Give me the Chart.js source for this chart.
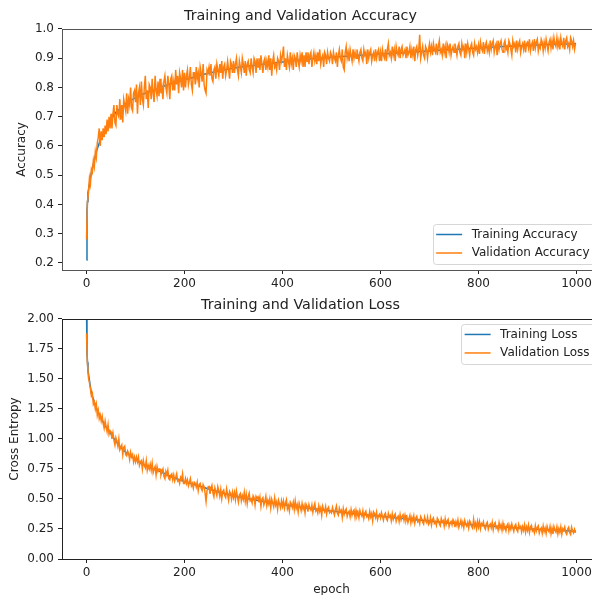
<!DOCTYPE html>
<html>
<head>
<meta charset="utf-8">
<script src="https://cdn.jsdelivr.net/npm/chart.js@4/dist/chart.umd.min.js"></script>
<style>
  html, body { margin: 0; padding: 0; background: #fff; overflow: hidden; width: 592px; height: 595px; }
  canvas { position: absolute; left: 0; }
  #accChart { top: 0; }
  #lossChart { top: 297px; }
</style>
</head>
<body>
<canvas id="accChart" width="601" height="297"></canvas>
<canvas id="lossChart" width="601" height="310"></canvas>
<script>
// validation logged every 2 epochs (0..998), one row = 50 epochs
// training logged at 0,1,2,3 then every 10 epochs, last at 999
const valStep = 2;
const trainEarly = [0, 1, 2, 3];
const trainStep = 10;
const lastEpoch = 999;

const valAccuracy = [
  0.28, 0.41, 0.44, 0.49, 0.47, 0.52, 0.51, 0.55, 0.53, 0.58, 0.56, 0.61, 0.63, 0.66, 0.60, 0.65, 0.62, 0.66, 0.63, 0.67, 0.64, 0.69, 0.65, 0.70, 0.66,
  0.71, 0.66, 0.71, 0.74, 0.68, 0.67, 0.74, 0.71, 0.70, 0.76, 0.69, 0.74, 0.68, 0.76, 0.74, 0.72, 0.78, 0.71, 0.76, 0.74, 0.80, 0.73, 0.72, 0.78, 0.79,
  0.75, 0.81, 0.71, 0.78, 0.80, 0.74, 0.82, 0.76, 0.74, 0.80, 0.84, 0.76, 0.79, 0.73, 0.81, 0.80, 0.76, 0.83, 0.78, 0.75, 0.84, 0.79, 0.77, 0.82, 0.77,
  0.83, 0.78, 0.80, 0.76, 0.82, 0.84, 0.80, 0.78, 0.84, 0.81, 0.76, 0.83, 0.84, 0.79, 0.82, 0.79, 0.86, 0.81, 0.84, 0.78, 0.85, 0.83, 0.80, 0.86, 0.79,
  0.85, 0.80, 0.84, 0.86, 0.81, 0.83, 0.87, 0.81, 0.79, 0.85, 0.85, 0.81, 0.87, 0.83, 0.85, 0.80, 0.87, 0.85, 0.82, 0.88, 0.81, 0.79, 0.78, 0.86, 0.85,
  0.87, 0.84, 0.88, 0.83, 0.82, 0.86, 0.87, 0.83, 0.88, 0.86, 0.84, 0.88, 0.85, 0.89, 0.83, 0.87, 0.88, 0.84, 0.86, 0.89, 0.86, 0.83, 0.89, 0.88, 0.85,
  0.89, 0.85, 0.88, 0.90, 0.86, 0.84, 0.89, 0.87, 0.85, 0.90, 0.88, 0.85, 0.89, 0.84, 0.88, 0.89, 0.86, 0.85, 0.90, 0.87, 0.85, 0.90, 0.89, 0.85, 0.90,
  0.87, 0.90, 0.86, 0.91, 0.88, 0.85, 0.89, 0.90, 0.86, 0.89, 0.87, 0.91, 0.86, 0.90, 0.84, 0.89, 0.91, 0.87, 0.88, 0.86, 0.90, 0.89, 0.86, 0.91, 0.89,
  0.91, 0.94, 0.87, 0.90, 0.86, 0.91, 0.89, 0.87, 0.92, 0.88, 0.90, 0.86, 0.91, 0.90, 0.87, 0.92, 0.89, 0.87, 0.91, 0.89, 0.92, 0.87, 0.91, 0.87, 0.92,
  0.89, 0.92, 0.88, 0.91, 0.92, 0.87, 0.90, 0.92, 0.89, 0.91, 0.88, 0.92, 0.89, 0.93, 0.88, 0.90, 0.91, 0.87, 0.92, 0.91, 0.88, 0.92, 0.90, 0.89, 0.92,
  0.91, 0.88, 0.92, 0.90, 0.89, 0.92, 0.87, 0.91, 0.93, 0.90, 0.89, 0.93, 0.87, 0.86, 0.92, 0.94, 0.90, 0.92, 0.89, 0.93, 0.91, 0.89, 0.93, 0.90, 0.92,
  0.90, 0.93, 0.91, 0.89, 0.92, 0.93, 0.90, 0.89, 0.93, 0.91, 0.92, 0.88, 0.93, 0.90, 0.92, 0.93, 0.89, 0.91, 0.92, 0.89, 0.93, 0.90, 0.92, 0.93, 0.89,
  0.92, 0.89, 0.93, 0.91, 0.90, 0.93, 0.89, 0.93, 0.95, 0.91, 0.92, 0.90, 0.94, 0.91, 0.93, 0.89, 0.94, 0.92, 0.91, 0.94, 0.90, 0.93, 0.94, 0.91, 0.92,
  0.93, 0.90, 0.94, 0.91, 0.92, 0.94, 0.90, 0.93, 0.91, 0.94, 0.89, 0.93, 0.94, 0.91, 0.93, 0.98, 0.90, 0.92, 0.94, 0.91, 0.90, 0.94, 0.93, 0.90, 0.93,
  0.95, 0.92, 0.94, 0.91, 0.95, 0.93, 0.92, 0.95, 0.91, 0.94, 0.96, 0.92, 0.93, 0.91, 0.95, 0.92, 0.94, 0.90, 0.95, 0.94, 0.92, 0.95, 0.91, 0.93, 0.94,
  0.92, 0.95, 0.93, 0.91, 0.94, 0.95, 0.92, 0.91, 0.95, 0.93, 0.94, 0.90, 0.95, 0.92, 0.95, 0.93, 0.91, 0.94, 0.95, 0.92, 0.91, 0.95, 0.93, 0.94, 0.92,
  0.945, 0.915, 0.955, 0.935, 0.925, 0.955, 0.915, 0.945, 0.955, 0.925, 0.94, 0.92, 0.96, 0.93, 0.95, 0.96, 0.92, 0.94, 0.95, 0.91, 0.96, 0.93, 0.95, 0.96, 0.93,
  0.92, 0.95, 0.96, 0.93, 0.94, 0.92, 0.96, 0.95, 0.93, 0.91, 0.96, 0.94, 0.95, 0.92, 0.96, 0.93, 0.95, 0.96, 0.92, 0.94, 0.95, 0.93, 0.96, 0.92, 0.95,
  0.955, 0.935, 0.965, 0.925, 0.945, 0.955, 0.925, 0.965, 0.935, 0.955, 0.965, 0.925, 0.945, 0.935, 0.965, 0.955, 0.925, 0.955, 0.935, 0.965, 0.945, 0.925, 0.955, 0.965, 0.935,
  0.96, 0.93, 0.97, 0.95, 0.94, 0.97, 0.94, 0.96, 0.93, 0.97, 0.95, 0.94, 0.97, 0.93, 0.96, 0.97, 0.94, 0.95, 0.93, 0.97, 0.96, 0.94, 0.96, 0.93, 0.95
];

const trainAccuracy = [
  0.21, 0.38, 0.41, 0.44,
  0.51, 0.58, 0.63, 0.66, 0.69, 0.715, 0.73, 0.745, 0.755, 0.765,
  0.775, 0.78, 0.787, 0.792, 0.80, 0.806, 0.812, 0.816, 0.821, 0.826,
  0.831, 0.835, 0.84, 0.845, 0.849, 0.853, 0.856, 0.86, 0.863, 0.866,
  0.869, 0.871, 0.873, 0.875, 0.877, 0.879, 0.881, 0.883, 0.885, 0.887,
  0.889, 0.891, 0.893, 0.895, 0.897, 0.898, 0.899, 0.901, 0.902, 0.903,
  0.905, 0.906, 0.907, 0.908, 0.909, 0.910, 0.911, 0.912, 0.913, 0.914,
  0.915, 0.916, 0.917, 0.918, 0.919, 0.920, 0.922, 0.923, 0.924, 0.925,
  0.926, 0.927, 0.928, 0.929, 0.930, 0.931, 0.932, 0.933, 0.934, 0.935,
  0.936, 0.937, 0.938, 0.939, 0.940, 0.941, 0.942, 0.943, 0.943, 0.944,
  0.945, 0.945, 0.946, 0.947, 0.947, 0.948, 0.948, 0.949, 0.949,
  0.95
];

const valLoss = [
  1.88, 1.62, 1.51, 1.47, 1.42, 1.36, 1.38, 1.29, 1.31, 1.25, 1.29, 1.20, 1.24, 1.17, 1.20, 1.15, 1.19, 1.13, 1.09, 1.15, 1.10, 1.06, 1.12, 1.04, 1.07,
  1.06, 1.00, 1.05, 0.99, 0.95, 1.01, 0.98, 0.94, 1.00, 0.91, 0.93, 0.95, 0.87, 0.93, 0.94, 0.87, 0.86, 0.90, 0.88, 0.83, 0.89, 0.85, 0.87, 0.81, 0.85,
  0.81, 0.85, 0.81, 0.85, 0.78, 0.81, 0.82, 0.75, 0.82, 0.78, 0.76, 0.82, 0.74, 0.78, 0.75, 0.79, 0.74, 0.80, 0.72, 0.75, 0.77, 0.70, 0.77, 0.73, 0.75,
  0.75, 0.70, 0.73, 0.75, 0.69, 0.67, 0.73, 0.70, 0.74, 0.67, 0.66, 0.70, 0.71, 0.66, 0.70, 0.65, 0.68, 0.71, 0.65, 0.66, 0.63, 0.68, 0.66, 0.71, 0.63,
  0.63, 0.67, 0.63, 0.66, 0.61, 0.64, 0.67, 0.61, 0.63, 0.59, 0.64, 0.63, 0.60, 0.64, 0.57, 0.62, 0.63, 0.59, 0.57, 0.62, 0.60, 0.55, 0.48, 0.57, 0.60,
  0.605, 0.543, 0.586, 0.614, 0.552, 0.52, 0.593, 0.561, 0.529, 0.602, 0.57, 0.523, 0.581, 0.504, 0.562, 0.575, 0.528, 0.511, 0.584, 0.537, 0.49, 0.563, 0.546, 0.499, 0.557,
  0.512, 0.555, 0.494, 0.567, 0.521, 0.474, 0.533, 0.546, 0.485, 0.528, 0.497, 0.555, 0.479, 0.537, 0.461, 0.519, 0.548, 0.486, 0.50, 0.468, 0.527, 0.51, 0.449, 0.522, 0.506,
  0.518, 0.472, 0.515, 0.439, 0.497, 0.511, 0.45, 0.478, 0.522, 0.445, 0.489, 0.458, 0.501, 0.425, 0.498, 0.467, 0.436, 0.509, 0.448, 0.476, 0.415, 0.489, 0.457, 0.426, 0.485,
  0.439, 0.483, 0.422, 0.466, 0.494, 0.418, 0.447, 0.401, 0.475, 0.459, 0.428, 0.472, 0.411, 0.484, 0.423, 0.452, 0.391, 0.465, 0.434, 0.403, 0.462, 0.416, 0.445, 0.384, 0.458,
  0.44, 0.394, 0.453, 0.422, 0.406, 0.45, 0.389, 0.433, 0.462, 0.401, 0.415, 0.384, 0.443, 0.397, 0.426, 0.365, 0.439, 0.408, 0.392, 0.436, 0.375, 0.419, 0.433, 0.387, 0.401,
  0.385, 0.429, 0.398, 0.367, 0.411, 0.441, 0.38, 0.364, 0.423, 0.392, 0.406, 0.345, 0.419, 0.373, 0.402, 0.417, 0.356, 0.385, 0.399, 0.353, 0.412, 0.366, 0.395, 0.409, 0.348,
  0.406, 0.36, 0.389, 0.344, 0.403, 0.372, 0.356, 0.401, 0.34, 0.384, 0.398, 0.353, 0.367, 0.336, 0.395, 0.35, 0.379, 0.318, 0.392, 0.377, 0.346, 0.39, 0.329, 0.359, 0.373,
  0.341, 0.385, 0.354, 0.324, 0.368, 0.382, 0.336, 0.321, 0.38, 0.349, 0.363, 0.318, 0.377, 0.331, 0.36, 0.375, 0.314, 0.343, 0.357, 0.312, 0.371, 0.325, 0.354, 0.369, 0.323,
  0.366, 0.32, 0.349, 0.304, 0.333, 0.362, 0.301, 0.346, 0.315, 0.359, 0.298, 0.342, 0.357, 0.311, 0.325, 0.294, 0.354, 0.338, 0.307, 0.291, 0.35, 0.32, 0.304, 0.348, 0.287,
  0.301, 0.345, 0.284, 0.329, 0.343, 0.297, 0.311, 0.281, 0.34, 0.324, 0.293, 0.277, 0.337, 0.306, 0.32, 0.274, 0.334, 0.288, 0.317, 0.331, 0.271, 0.30, 0.314, 0.284, 0.328,
  0.312, 0.266, 0.311, 0.28, 0.325, 0.264, 0.293, 0.323, 0.277, 0.307, 0.261, 0.32, 0.29, 0.274, 0.304, 0.258, 0.317, 0.302, 0.271, 0.256, 0.33, 0.269, 0.299, 0.253, 0.313,
  0.267, 0.311, 0.251, 0.295, 0.28, 0.309, 0.264, 0.248, 0.293, 0.307, 0.247, 0.276, 0.291, 0.26, 0.305, 0.244, 0.289, 0.303, 0.258, 0.272, 0.242, 0.301, 0.256, 0.285, 0.24,
  0.297, 0.251, 0.266, 0.235, 0.28, 0.294, 0.233, 0.278, 0.247, 0.292, 0.261, 0.23, 0.275, 0.289, 0.244, 0.228, 0.287, 0.257, 0.271, 0.226, 0.27, 0.239, 0.284, 0.223, 0.268,
  0.237, 0.282, 0.221, 0.266, 0.28, 0.235, 0.249, 0.219, 0.278, 0.233, 0.262, 0.277, 0.216, 0.246, 0.26, 0.215, 0.274, 0.229, 0.258, 0.213, 0.272, 0.242, 0.226, 0.271, 0.211,
  0.256, 0.21, 0.27, 0.24, 0.224, 0.269, 0.209, 0.253, 0.223, 0.268, 0.207, 0.252, 0.237, 0.266, 0.221, 0.206, 0.25, 0.265, 0.22, 0.204, 0.264, 0.234, 0.218, 0.248, 0.218
];

const trainLoss = [
  2.10, 1.72, 1.64, 1.57,
  1.38, 1.26, 1.17, 1.10, 1.04, 0.98, 0.93, 0.89, 0.86, 0.83,
  0.80, 0.78, 0.76, 0.745, 0.73, 0.71, 0.69, 0.675, 0.66, 0.645,
  0.632, 0.62, 0.608, 0.595, 0.582, 0.57, 0.558, 0.547, 0.537, 0.527,
  0.517, 0.51, 0.502, 0.495, 0.488, 0.481, 0.474, 0.467, 0.46, 0.454,
  0.448, 0.442, 0.436, 0.43, 0.425, 0.42, 0.415, 0.41, 0.405, 0.40,
  0.395, 0.39, 0.385, 0.38, 0.376, 0.372, 0.368, 0.364, 0.36, 0.356,
  0.352, 0.348, 0.344, 0.34, 0.336, 0.332, 0.328, 0.324, 0.32, 0.316,
  0.312, 0.308, 0.304, 0.30, 0.297, 0.294, 0.291, 0.288, 0.285, 0.282,
  0.279, 0.276, 0.273, 0.27, 0.267, 0.264, 0.261, 0.258, 0.255, 0.252,
  0.25, 0.247, 0.245, 0.243, 0.241, 0.239, 0.237, 0.235, 0.233,
  0.232
];

const xTicks = [0, 200, 400, 600, 800, 1000];
const accTicks = [0.2, 0.3, 0.4, 0.5, 0.6, 0.7, 0.8, 0.9, 1.0];
const lossTicks = [0, 0.25, 0.5, 0.75, 1.0, 1.25, 1.5, 1.75, 2.0];

const BLUE = '#1f77b4';
const ORANGE = '#ff7f0e';
const INK = '#222';
const FONT = 'DejaVu Sans';
const SMALL = 12;

const valEpochs = valAccuracy.map((_, i) => i * valStep);
const trainEpochs = trainEarly.slice();
for (let e = trainStep; e < lastEpoch; e += trainStep) trainEpochs.push(e);
trainEpochs.push(lastEpoch);

function points(epochs, values) {
  if (epochs.length !== values.length) console.warn('length mismatch', epochs.length, values.length);
  return values.map((v, i) => ({ x: epochs[i], y: v }));
}

// all four spines, like matplotlib
const frame = {
  id: 'frame',
  afterDatasetsDraw(chart, args, opts) {
    const { ctx, chartArea: a } = chart;
    ctx.save();
    ctx.strokeStyle = opts.color;
    ctx.lineWidth = 1;
    ctx.strokeRect(Math.round(a.left) + 0.5, Math.round(a.top) + 0.5,
      Math.round(a.right - a.left), Math.round(a.bottom - a.top));
    ctx.restore();
  }
};

// legend drawn inside the axes
const boxLegend = {
  id: 'boxLegend',
  afterDraw(chart, args, opts) {
    const { ctx, chartArea: a } = chart;
    const items = chart.data.datasets.slice().sort((p, q) => p.legendIndex - q.legendIndex);
    ctx.save();
    ctx.font = SMALL + 'px "' + FONT + '"';
    const textW = Math.max(...items.map(d => ctx.measureText(d.label).width));
    const pad = 3.5, handle = 26, gap = 9.5, rowH = 18.5;
    const w = pad + handle + gap + textW + pad + 2;
    const h = 40;
    const x = a.right - 6 - w;
    const y = opts.where === 'lower' ? a.bottom - 6 - h : a.top + 5;
    ctx.beginPath();
    ctx.roundRect(Math.round(x) + 0.5, Math.round(y) + 0.5, Math.round(w), h, 3);
    ctx.fillStyle = 'rgba(255,255,255,0.85)';
    ctx.fill();
    ctx.strokeStyle = '#d6d6d6';
    ctx.lineWidth = 1;
    ctx.stroke();
    items.forEach((d, i) => {
      const cy = y + 10.5 + i * rowH;
      ctx.strokeStyle = d.borderColor;
      ctx.lineWidth = 1.5;
      ctx.beginPath();
      ctx.moveTo(x + pad, cy);
      ctx.lineTo(x + pad + handle, cy);
      ctx.stroke();
      ctx.fillStyle = INK;
      ctx.textBaseline = 'middle';
      ctx.fillText(d.label, x + pad + handle + gap, cy);
    });
    ctx.restore();
  }
};

function makeChart(id, cfg) {
  return new Chart(document.getElementById(id), {
    type: 'line',
    data: {
      datasets: [
        { label: cfg.names[0], legendIndex: 0, data: points(trainEpochs, cfg.train),
          borderColor: BLUE, borderWidth: 1.5, order: 1 },
        { label: cfg.names[1], legendIndex: 1, data: points(valEpochs, cfg.val),
          borderColor: ORANGE, borderWidth: 1.5, order: 0 }
      ]
    },
    options: {
      responsive: false,
      animation: false,
      events: [],
      layout: { padding: 0 },
      elements: {
        line: { tension: 0, fill: false },
        point: { radius: 0 }
      },
      datasets: { line: { clip: 0 } },
      plugins: {
        legend: { display: false },
        tooltip: { enabled: false },
        title: {
          display: true,
          text: cfg.title,
          color: INK,
          font: { family: FONT, size: 14.3, weight: 'normal', lineHeight: 1.2 },
          padding: cfg.titlePad
        },
        frame: { color: cfg.spine },
        boxLegend: { where: cfg.legendWhere }
      },
      scales: {
        x: {
          type: 'linear',
          min: -50,
          max: 1050,
          afterBuildTicks: s => { s.ticks = xTicks.map(v => ({ value: v })); },
          afterFit: s => { s.height = cfg.xHeight; },
          border: { display: false },
          grid: { drawOnChartArea: false, drawTicks: true, tickLength: 4, color: INK },
          ticks: { color: INK, padding: 3, maxRotation: 0,
                   font: { family: FONT, size: SMALL }, callback: v => String(v) },
          title: cfg.xTitle ? {
            display: true, text: cfg.xTitle, color: INK,
            font: { family: FONT, size: SMALL, lineHeight: 1.2 },
            padding: { top: 0, bottom: cfg.xTitlePad }
          } : { display: false }
        },
        y: {
          min: cfg.yMin,
          max: cfg.yMax,
          afterBuildTicks: s => { s.ticks = cfg.yTicks.map(v => ({ value: v })); },
          afterFit: s => { s.width = 62; },
          border: { display: false },
          grid: { drawOnChartArea: false, drawTicks: true, tickLength: 4, color: INK },
          ticks: { color: INK, padding: 4,
                   font: { family: FONT, size: SMALL },
                   callback: v => v.toFixed(cfg.decimals) },
          title: {
            display: true, text: cfg.yTitle, color: INK,
            font: { family: FONT, size: SMALL, lineHeight: 1.2 },
            padding: { top: cfg.yTitlePad, bottom: 0 }
          }
        }
      }
    },
    plugins: [frame, boxLegend]
  });
}

makeChart('accChart', {
  title: 'Training and Validation Accuracy',
  names: ['Training Accuracy', 'Validation Accuracy'],
  train: trainAccuracy,
  val: valAccuracy,
  yMin: 0.176, yMax: 1.0, yTicks: accTicks, decimals: 1,
  yTitle: 'Accuracy', yTitlePad: 15,
  xHeight: 27, xTitle: null, xTitlePad: 0,
  titlePad: { top: 8, bottom: 3.8 },
  spine: '#555',
  legendWhere: 'lower'
});

makeChart('lossChart', {
  title: 'Training and Validation Loss',
  names: ['Training Loss', 'Validation Loss'],
  train: trainLoss,
  val: valLoss,
  yMin: 0, yMax: 2.0, yTicks: lossTicks, decimals: 2,
  yTitle: 'Cross Entropy', yTitlePad: 8,
  xHeight: 48, xTitle: 'epoch', xTitlePad: 10,
  titlePad: { top: 0, bottom: 4.8 },
  spine: '#222',
  legendWhere: 'upper'
});
</script>
</body>
</html>
